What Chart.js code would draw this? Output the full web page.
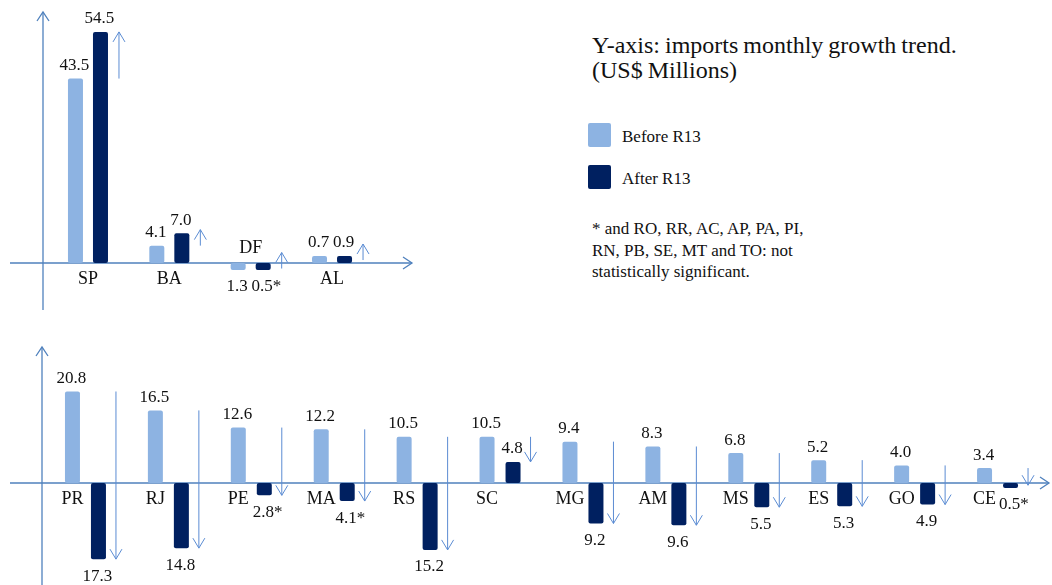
<!DOCTYPE html>
<html>
<head>
<meta charset="utf-8">
<script src="https://cdn.jsdelivr.net/npm/chart.js@4.4.1/dist/chart.umd.min.js"></script>
<style>
  body { margin: 0; background: #fff; width: 1052px; height: 585px; position: relative; overflow: hidden;
         font-family: "Liberation Serif", "Times New Roman", serif; color: #111; }
  #topChart { position: absolute; left: 0; top: 0; }
  #bottomChart { position: absolute; left: 0; top: 335px; }
  .title { position: absolute; left: 592px; top: 33px; font-size: 24px; line-height: 25px; word-spacing: -1px; }
  .legend { position: absolute; left: 588px; top: 123px; font-size: 17px; }
  .legend .row { display: flex; align-items: flex-start; height: 24px; margin-bottom: 18px; }
  .legend .box { width: 23px; height: 24px; border-radius: 2px; margin-right: 11px; }
  .legend .txt { line-height: 24px; padding-top: 2px; }
  .note { position: absolute; left: 592px; top: 218px; font-size: 17px; line-height: 21.5px; }
</style>
</head>
<body>
<canvas id="topChart" width="420" height="320"></canvas>
<canvas id="bottomChart" width="1052" height="250"></canvas>

<div class="title">Y-axis: imports monthly growth trend.<br>(US$ Millions)</div>
<div class="legend">
  <div class="row"><div class="box" style="background:#8DB3E2"></div><div class="txt">Before R13</div></div>
  <div class="row"><div class="box" style="background:#002060"></div><div class="txt">After R13</div></div>
</div>
<div class="note">* and RO, RR, AC, AP, PA, PI,<br>RN, PB, SE, MT and TO: not<br>statistically significant.</div>

<script>
// Top panel: states whose imports grew after R13
const topStates = ['SP', 'BA', 'DF', 'AL'];
const topBefore = [43.5, 4.1, -1.3, 0.7];
const topAfter = [54.5, 7.0, -0.5, 0.9];
const topNotSig = [false, false, true, false];

// Bottom panel: states whose imports fell after R13
const bottomStates = ['PR', 'RJ', 'PE', 'MA', 'RS', 'SC', 'MG', 'AM', 'MS', 'ES', 'GO', 'CE'];
const bottomBefore = [20.8, 16.5, 12.6, 12.2, 10.5, 10.5, 9.4, 8.3, 6.8, 5.2, 4.0, 3.4];
const bottomAfter = [-17.3, -14.8, -2.8, -4.1, -15.2, 4.8, -9.2, -9.6, -5.5, -5.3, -4.9, -0.5];
const bottomNotSig = [false, false, true, true, false, false, false, false, false, false, false, true];

const lightBlue = '#8DB3E2';
const navy = '#002060';
const axisColor = '#4F81BD';
const arrowColor = '#5B8CD3';

function drawArrow(ctx, x1, y1, x2, y2, head, half) {
  ctx.beginPath();
  ctx.moveTo(x1, y1);
  ctx.lineTo(x2, y2);
  ctx.stroke();
  const a = Math.atan2(y2 - y1, x2 - x1);
  const ux = Math.cos(a), uy = Math.sin(a);
  ctx.beginPath();
  ctx.moveTo(x2 - ux * head - uy * half, y2 - uy * head + ux * half);
  ctx.lineTo(x2, y2);
  ctx.lineTo(x2 - ux * head + uy * half, y2 - uy * head - ux * half);
  ctx.stroke();
}

// axes with arrow heads, trend arrows and all the text labels
const r13Marks = {
  id: 'r13Marks',
  beforeDatasetsDraw(chart, args, opts) {
    const ctx = chart.ctx;
    const zero = chart.scales.y.getPixelForValue(0);
    ctx.save();
    ctx.strokeStyle = axisColor;
    ctx.lineWidth = 1.3;
    drawArrow(ctx, opts.xAxisFrom, zero, opts.xAxisTo, zero, 9, 6);
    drawArrow(ctx, opts.yAxisX, opts.yAxisBottom, opts.yAxisX, opts.yAxisTop, 9, 6);
    ctx.restore();
  },
  afterDatasetsDraw(chart, args, opts) {
    const ctx = chart.ctx;
    const ys = chart.scales.y, xs = chart.scales.x;
    const zero = ys.getPixelForValue(0);
    const before = chart.data.datasets[0].data;
    const after = chart.data.datasets[1].data;
    const light = chart.getDatasetMeta(0).data;
    const dark = chart.getDatasetMeta(1).data;
    ctx.save();

    // trend arrows, from the before value to the after value
    ctx.strokeStyle = arrowColor;
    ctx.lineWidth = 1;
    before.forEach((b, i) => {
      const x = dark[i].x + opts.arrowOffset;
      const y1 = ys.getPixelForValue(b);
      let y2 = ys.getPixelForValue(after[i]);
      const dir = after[i] >= b ? -1 : 1;
      if (Math.abs(y2 - y1) < 16) y2 = y1 + dir * 16;
      drawArrow(ctx, x, y1, x, y2, 10, 6);
    });

    // value labels: the number is centred on its bar, an asterisk trails it
    ctx.fillStyle = '#111';
    ctx.font = '17px "Liberation Serif", serif';
    ctx.textAlign = 'left';
    ctx.textBaseline = 'middle';
    [[before, light, null], [after, dark, opts.notSig]].forEach(([vals, bars, sig]) => {
      vals.forEach((v, i) => {
        const num = Math.abs(v).toFixed(1);
        const txt = num + (sig && sig[i] ? '*' : '');
        const y = v >= 0 ? bars[i].y - 13 : bars[i].y + 17;
        ctx.fillText(txt, bars[i].x - 1 - ctx.measureText(num).width / 2, y);
      });
    });

    // category labels
    ctx.textAlign = 'center';
    ctx.font = '18px "Liberation Serif", serif';
    chart.data.labels.forEach((lab, i) => {
      const x = opts.labelAtBefore ? light[i].x : xs.getPixelForValue(i);
      const y = before[i] < 0 ? zero - 15 : zero + 16;
      ctx.fillText(lab, x, y);
    });
    ctx.restore();
  }
};

function makeChart(id, labels, before, after, notSig, cfg) {
  const common = { borderRadius: 2, borderSkipped: false, minBarLength: cfg.minBar,
                   categoryPercentage: cfg.catPct, barPercentage: cfg.barPct };
  return new Chart(document.getElementById(id), {
    type: 'bar',
    data: {
      labels: labels,
      datasets: [
        Object.assign({ label: 'Before R13', data: before, backgroundColor: lightBlue }, common),
        Object.assign({ label: 'After R13', data: after, backgroundColor: navy }, common)
      ]
    },
    options: {
      responsive: false,
      animation: false,
      devicePixelRatio: 1,
      layout: { padding: { left: cfg.padLeft, right: cfg.padRight, top: 0, bottom: 0 } },
      scales: {
        x: { display: false },
        y: { display: false, min: cfg.yMin, max: cfg.yMax }
      },
      plugins: {
        legend: { display: false },
        tooltip: { enabled: false },
        r13Marks: {
          notSig: notSig,
          arrowOffset: cfg.arrowOffset,
          labelAtBefore: cfg.labelAtBefore,
          xAxisFrom: 10, xAxisTo: cfg.xAxisTo,
          yAxisX: cfg.yAxisX, yAxisTop: 12, yAxisBottom: cfg.yAxisBottom
        }
      }
    },
    plugins: [r13Marks]
  });
}

makeChart('topChart', topStates, topBefore, topAfter, topNotSig, {
  catPct: 0.615, barPct: 0.6, padLeft: 47.3, padRight: 47.3, minBar: 7,
  yMin: -13.44, yMax: 62.03, arrowOffset: 18.5, labelAtBefore: false,
  xAxisTo: 412, yAxisX: 43, yAxisBottom: 310
});

makeChart('bottomChart', bottomStates, bottomBefore, bottomAfter, bottomNotSig, {
  catPct: 0.627, barPct: 0.577, padLeft: 44, padRight: 13, minBar: 5,
  yMin: -23.18, yMax: 33.64, arrowOffset: 17.5, labelAtBefore: true,
  xAxisTo: 1049, yAxisX: 42, yAxisBottom: 250
});
</script>
</body>
</html>
